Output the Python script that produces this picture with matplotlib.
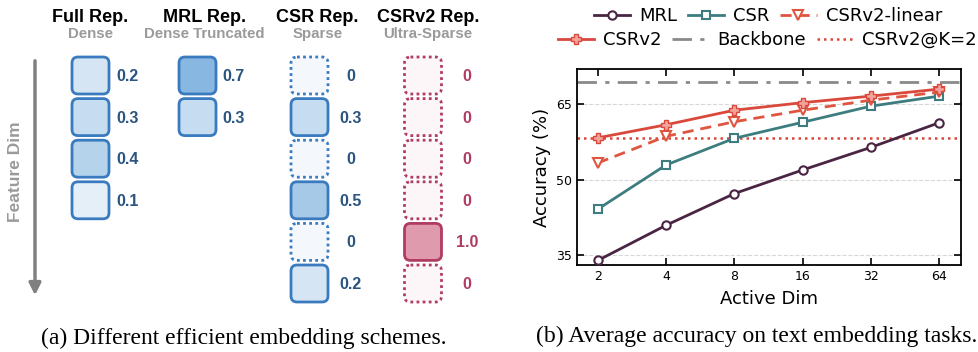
import numpy as np
import matplotlib.pyplot as plt
from matplotlib.patches import FancyBboxPatch
from matplotlib.colors import LinearSegmentedColormap
from matplotlib.ticker import FixedLocator, FixedFormatter, NullLocator

# ---- panel (a) data ----
scheme_titles = ['Full Rep.', 'MRL Rep.', 'CSR Rep.', 'CSRv2 Rep.']
scheme_subtitles = ['Dense', 'Dense Truncated', 'Sparse', 'Ultra-Sparse']
full_vals = [0.2, 0.3, 0.4, 0.1]
mrl_vals = [0.7, 0.3]
csr_vals = [0, 0.3, 0, 0.5, 0, 0.2]
csrv2_vals = [0, 0, 0, 0, 1.0, 0]

# ---- panel (b) data ----
active_dim = [2, 4, 8, 16, 32, 64]
acc_mrl = [33.9, 40.9, 47.2, 51.9, 56.4, 61.3]
acc_csr = [44.1, 52.9, 58.2, 61.4, 64.6, 66.6]
acc_csrv2_linear = [53.3, 58.6, 61.5, 63.8, 65.8, 67.4]
acc_csrv2 = [58.3, 60.9, 63.8, 65.3, 66.6, 68.0]
acc_backbone = 69.4
acc_csrv2_k2 = 58.3

W, H = 979, 352
fig = plt.figure(figsize=(W / 100, H / 100), dpi=100)

# ------------------------------------------------------------------
# (a) embedding scheme diagram, axes in pixel units
ax0 = fig.add_axes([0, 0, 500 / W, 1])
ax0.set_xlim(0, 500)
ax0.set_ylim(H, 0)
ax0.axis('off')

blue_cmap = LinearSegmentedColormap.from_list('b', ['#f4f8fc', '#5a9bd5'])
red_cmap = LinearSegmentedColormap.from_list('r', ['#fcf6f8', '#e09aae'])
blue_edge, red_edge = '#3a7bbf', '#b03c62'
blue_txt, red_txt = '#2b5580', '#b03c62'
sans = 'Liberation Sans'

col_x = [90.5, 197.5, 309.5, 423]
head_dx = [0, 7, 8, 5]
val_dx = [37, 36, 41, 44]
row0, pitch, box = 75.5, 41.6, 37

columns = [
    (full_vals, blue_cmap, blue_edge, blue_txt),
    (mrl_vals, blue_cmap, blue_edge, blue_txt),
    (csr_vals, blue_cmap, blue_edge, blue_txt),
    (csrv2_vals, red_cmap, red_edge, red_txt),
]

for ci, (vals, cmap, edge, tcol) in enumerate(columns):
    cx = col_x[ci]
    ax0.text(cx + head_dx[ci], 17, scheme_titles[ci], ha='center', va='center',
             fontsize=13, fontweight='bold', family=sans, color='black')
    ax0.text(cx + head_dx[ci], 34, scheme_subtitles[ci], ha='center', va='center',
             fontsize=10.8, fontweight='bold', family=sans, color='#9a9a9a')
    for ri, v in enumerate(vals):
        cy = row0 + ri * pitch
        zero = v == 0
        p = FancyBboxPatch((cx - box / 2 + 6, cy - box / 2 + 6), box - 12, box - 12,
                           boxstyle='round,pad=6', facecolor=cmap(v),
                           edgecolor=edge, linewidth=2.0,
                           linestyle=(0, (1, 1.2)) if zero else '-')
        ax0.add_patch(p)
        label = '0' if zero else f'{v:.1f}'
        ax0.text(cx + val_dx[ci], cy + 1, label, ha='center', va='center',
                 fontsize=11.5, fontweight='bold', family=sans, color=tcol)

# Feature Dim arrow
ax0.annotate('', xy=(35, 298), xytext=(35, 58),
             arrowprops=dict(arrowstyle='-|>,head_width=0.35,head_length=0.7',
                             color='#808080', lw=2.5))
ax0.text(16, 172, 'Feature Dim', rotation=90, ha='center', va='center',
         fontsize=12.5, fontweight='bold', family=sans, color='#9a9a9a')

# ------------------------------------------------------------------
# (b) accuracy vs active dim
ax = fig.add_axes([577 / W, (H - 265) / H, 384 / W, 196 / H])
c_mrl, c_csr, c_red, c_lin = '#4a2543', '#3d7d80', '#d9483b', '#e0553f'

ax.plot(active_dim, acc_mrl, color=c_mrl, lw=2, marker='o', ms=6,
        mfc='white', mec=c_mrl, mew=1.5, label='MRL', zorder=3)
ax.plot(active_dim, acc_csr, color=c_csr, lw=2, marker='s', ms=6,
        mfc='white', mec=c_csr, mew=1.5, label='CSR', zorder=3)
ax.plot(active_dim, acc_csrv2_linear, color=c_lin, lw=2, ls=(0, (4, 2.5)),
        marker='v', ms=6.5, mfc='white', mec=c_lin, mew=1.5,
        label='CSRv2-linear', zorder=3)
ax.plot(active_dim, acc_csrv2, color=c_red, lw=2, marker='P', ms=6.5,
        mfc='#f2a39b', mec=c_red, mew=1.0, label='CSRv2', zorder=4)
ax.axhline(acc_backbone, color='#8a8a8a', lw=2, ls=(0, (7, 3, 1.5, 3)),
           label='Backbone', zorder=2)
ax.axhline(acc_csrv2_k2, color=c_red, lw=1.8, ls=(0, (1, 1.6)),
           label='CSRv2@K=2', zorder=2)

ax.set_xscale('log', base=2)
ax.xaxis.set_major_locator(FixedLocator(active_dim))
ax.xaxis.set_major_formatter(FixedFormatter([str(d) for d in active_dim]))
ax.xaxis.set_minor_locator(NullLocator())
ax.set_xlim(1.62, 80)
ax.set_ylim(33, 72)
ax.set_yticks([35, 50, 65])
ax.tick_params(direction='in', top=True, right=True, length=5, width=1.2,
               labelsize=9)
ax.yaxis.grid(True, ls='--', color='#d8d8d8', lw=0.8)
ax.set_axisbelow(True)
for s in ax.spines.values():
    s.set_linewidth(1.3)
ax.set_xlabel('Active Dim', fontsize=13, labelpad=5)
ax.set_ylabel('Accuracy (%)', fontsize=13, labelpad=4)

h, l = ax.get_legend_handles_labels()
leg_kw = dict(ncol=3, frameon=False, fontsize=13, handlelength=2.0,
              handletextpad=0.5, columnspacing=0.6, borderpad=0, borderaxespad=0)
fig.legend(h[:3], l[:3], loc='center', bbox_to_anchor=(768 / W, 1 - 16 / H),
           **leg_kw)
fig.legend(h[3:], l[3:], loc='center', bbox_to_anchor=(767 / W, 1 - 40 / H),
           **leg_kw)

# captions
serif = 'Liberation Serif'
fig.text(244 / W, 1 - 338 / H, '(a) Different efficient embedding schemes.',
         ha='center', va='center', fontsize=17, family=serif)
fig.text(757 / W, 1 - 336 / H, '(b) Average accuracy on text embedding tasks.',
         ha='center', va='center', fontsize=17, family=serif)

fig.savefig('out.png', dpi=100)
